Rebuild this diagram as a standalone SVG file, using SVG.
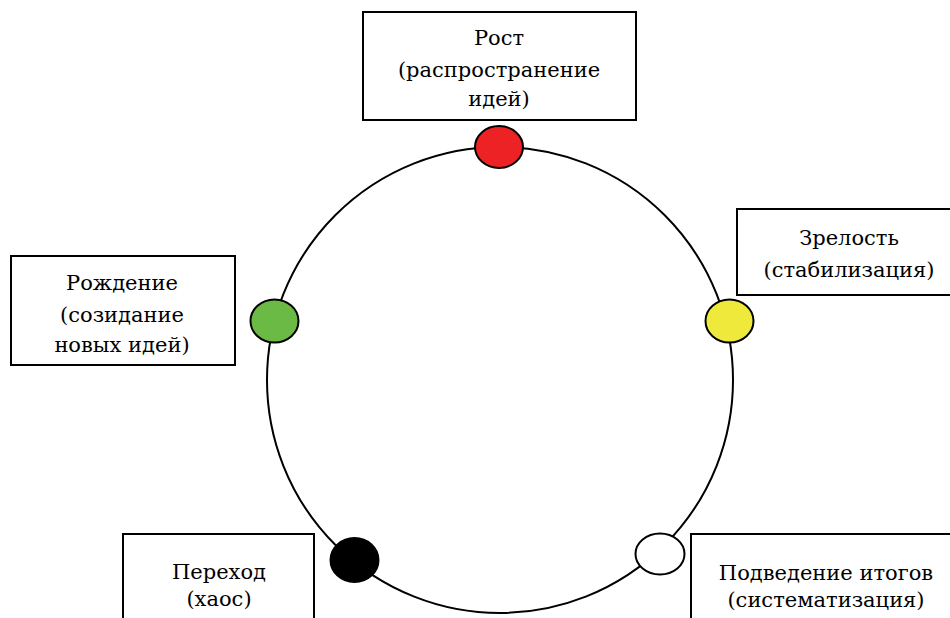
<svg xmlns="http://www.w3.org/2000/svg" width="950" height="618" viewBox="0 0 950 618">
<style>
.box{fill:#fff;stroke:#000;stroke-width:2}
.dot{stroke:#000;stroke-width:2}
.t{font-family:"DejaVu Serif","Liberation Serif",serif;font-size:21px;fill:#000;text-anchor:middle}
</style>
<rect width="950" height="618" fill="#fff"/>
<g id="connectors">
<circle cx="500" cy="380" r="233" fill="none" stroke="#000" stroke-width="2"/>
</g>
<g id="node-growth">
<rect class="box" x="363" y="12" width="273" height="108"/>
<text class="t" x="499" y="45">Рост</text>
<text class="t" x="499" y="77">(распространение</text>
<text class="t" x="499" y="106">идей)</text>
<ellipse class="dot" cx="499" cy="147" rx="24" ry="21" fill="#ED2224"/>
</g>
<g id="node-birth">
<rect class="box" x="11" y="256" width="224" height="109"/>
<text class="t" x="122" y="290">Рождение</text>
<text class="t" x="122" y="322">(созидание</text>
<text class="t" x="122" y="352">новых идей)</text>
<ellipse class="dot" cx="274.5" cy="321" rx="24" ry="21.5" fill="#6BBA45"/>
</g>
<g id="node-maturity">
<rect class="box" x="737" y="209" width="222" height="86"/>
<text class="t" x="849" y="245">Зрелость</text>
<text class="t" x="849" y="277">(стабилизация)</text>
<ellipse class="dot" cx="729.5" cy="321" rx="24" ry="21.5" fill="#EEE93A"/>
</g>
<g id="node-transition">
<rect class="box" x="123" y="534" width="191" height="100"/>
<text class="t" x="219" y="579">Переход</text>
<text class="t" x="219" y="606">(хаос)</text>
<ellipse class="dot" cx="354.5" cy="560" rx="24" ry="22" fill="#000"/>
</g>
<g id="node-summary">
<rect class="box" x="691" y="534" width="270" height="100"/>
<text class="t" x="826" y="580">Подведение итогов</text>
<text class="t" x="826" y="607">(систематизация)</text>
<ellipse class="dot" cx="660" cy="554" rx="24.5" ry="20.5" fill="#fff"/>
</g>
</svg>
